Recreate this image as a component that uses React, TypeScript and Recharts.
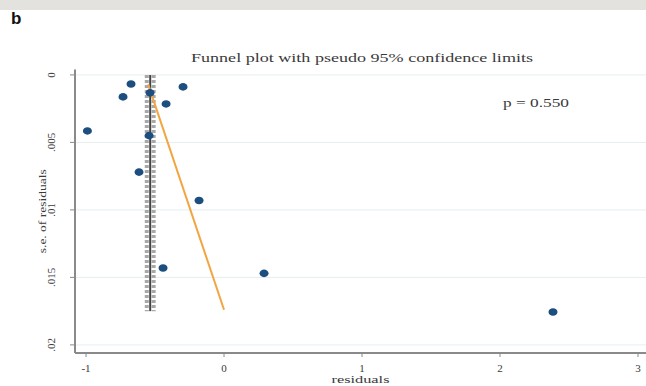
import React from "react";
import {
  CartesianGrid,
  Scatter,
  ScatterChart,
  XAxis,
  YAxis,
} from "recharts";

// study residuals and their standard errors
const residuals = [-0.99, -0.674, -0.732, -0.297, -0.42, -0.536, -0.543, -0.616, -0.181, -0.442, 0.29, 2.384];
const seResiduals = [0.00415, 0.00067, 0.00163, 0.00089, 0.00215, 0.00133, 0.0045, 0.0072, 0.0093, 0.0143, 0.0147, 0.01756];

// pooled estimate and pseudo 95% limits (nearly vertical at this scale)
const pooledX = [-0.535, -0.535];
const lowerX = [-0.56, -0.56];
const upperX = [-0.51, -0.51];
const limitSe = [0, 0.0175];

// Egger regression line
const eggerX = [-0.55, 0.0];
const eggerSe = [0.0007, 0.0174];

const xTicks = [-1, 0, 1, 2, 3];
const yTicks = [0, 0.005, 0.01, 0.015, 0.02];
const yTickLabels = ["0", ".005", ".01", ".015", ".02"];

const points = residuals.map((x, i) => ({ x, y: seResiduals[i] }));
const pairs = (xs: number[], ys: number[]) => xs.map((x, i) => ({ x, y: ys[i] }));

const SERIF = "'Liberation Serif', 'DejaVu Serif', serif";
const AXIS = "#8a8a8a";
const TEXT = "#3a3a3a";

function YTick(props: any) {
  const { x, y, payload } = props;
  const idx = yTicks.indexOf(payload.value);
  const bx = x - 13;
  return (
    <text
      x={bx}
      y={y}
      transform={`rotate(-90 ${bx} ${y})`}
      textAnchor="middle"
      fontFamily={SERIF}
      fontSize={11}
      fill={TEXT}
    >
      {idx >= 0 ? yTickLabels[idx] : payload.value}
    </text>
  );
}

function XTick(props: any) {
  const { x, y, payload } = props;
  return (
    <text x={x} y={y + 13} textAnchor="middle" fontFamily={SERIF} fontSize={11} fill={TEXT}>
      {payload.value}
    </text>
  );
}

const XTitle = (props: any) => {
  const vb = props.viewBox;
  const cx = vb.x + vb.width / 2;
  return (
    <text x={cx} y={383} textAnchor="middle" fontFamily={SERIF} fontSize={11} fill={TEXT} textLength={58} lengthAdjust="spacingAndGlyphs">
      residuals
    </text>
  );
};

const YTitle = (props: any) => {
  const vb = props.viewBox;
  const cy = vb.y + vb.height / 2;
  const x = 46;
  return (
    <text
      x={x}
      y={cy}
      transform={`rotate(-90 ${x} ${cy})`}
      textAnchor="middle"
      fontFamily={SERIF}
      fontSize={11}
      fill={TEXT}
      textLength={84}
      lengthAdjust="spacingAndGlyphs"
    >
      s.e. of residuals
    </text>
  );
};

const noShape = () => <g />;

export default function App() {
  return (
    <div style={{ position: "absolute", left: 0, top: 0, width: 646, height: 386, background: "#fff" }}>
      <div style={{ position: "absolute", left: 0, top: 0, width: 646, height: 10, background: "#e4e2de" }} />
      <div
        style={{
          position: "absolute",
          left: 11,
          top: 9,
          fontFamily: "'Liberation Sans', Arial, sans-serif",
          fontWeight: 700,
          fontSize: 17,
          color: "#111",
        }}
      >
        b
      </div>
      <svg width={646} height={386} style={{ position: "absolute", left: 0, top: 0, pointerEvents: "none" }}>
        <text x={362} y={62} textAnchor="middle" fontFamily={SERIF} fontSize={13} fill={TEXT} textLength={342} lengthAdjust="spacingAndGlyphs">
          Funnel plot with pseudo 95% confidence limits
        </text>
        <text x={503} y={107} fontFamily={SERIF} fontSize={12} fill={TEXT} textLength={66} lengthAdjust="spacingAndGlyphs">
          p = 0.550
        </text>
      </svg>
      <ScatterChart width={646} height={386} margin={{ top: 69.5, right: 0, bottom: 0, left: 0 }}>
        <CartesianGrid vertical={false} stroke="#e6eef2" horizontalValues={yTicks} />
        <XAxis
          type="number"
          dataKey="x"
          domain={[-1.08, 3.058]}
          ticks={xTicks}
          allowDataOverflow
          height={33}
          axisLine={{ stroke: AXIS, strokeWidth: 2 }}
          tickLine={{ stroke: AXIS }}
          tickSize={4}
          tick={<XTick />}
          label={<XTitle />}
        />
        <YAxis
          type="number"
          dataKey="y"
          reversed
          domain={[-0.0004, 0.0206]}
          ticks={yTicks}
          allowDataOverflow
          width={75}
          axisLine={{ stroke: AXIS, strokeWidth: 2 }}
          tickLine={{ stroke: AXIS }}
          tickSize={5}
          tick={<YTick />}
          label={<YTitle />}
        />
        <Scatter
          data={pairs(lowerX, limitSe)}
          line={{ stroke: "#a8a8a8", strokeWidth: 4, strokeDasharray: "3 2" }}
          shape={noShape}
          isAnimationActive={false}
        />
        <Scatter
          data={pairs(upperX, limitSe)}
          line={{ stroke: "#a8a8a8", strokeWidth: 4, strokeDasharray: "3 2" }}
          shape={noShape}
          isAnimationActive={false}
        />
        <Scatter
          data={pairs(pooledX, limitSe)}
          line={{ stroke: "#444", strokeWidth: 2 }}
          shape={noShape}
          isAnimationActive={false}
        />
        <Scatter
          data={pairs(eggerX, eggerSe)}
          line={{ stroke: "#f2a541", strokeWidth: 2 }}
          shape={noShape}
          isAnimationActive={false}
        />
        <Scatter
          data={points}
          shape={(p: any) => <ellipse cx={p.cx} cy={p.cy} rx={4.5} ry={3.8} fill="#1d4e80" />}
          isAnimationActive={false}
        />
      </ScatterChart>
    </div>
  );
}
